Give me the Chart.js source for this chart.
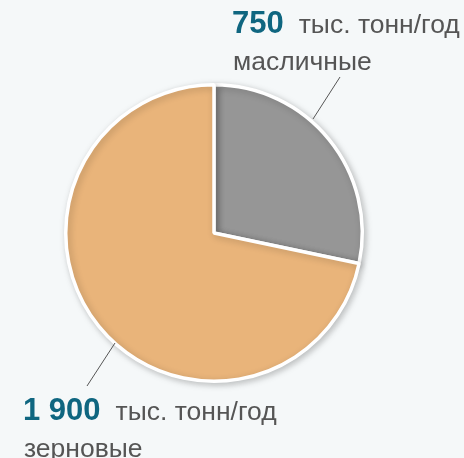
<!DOCTYPE html>
<html>
<head>
<meta charset="utf-8">
<script src="https://cdn.jsdelivr.net/npm/chart.js@4.4.1/dist/chart.umd.min.js"></script>
<style>
  html, body { margin: 0; padding: 0; background: #f5f8f9; }
  #wrap { width: 464px; height: 458px; }
</style>
</head>
<body>
<div id="wrap"><canvas id="pie" width="464" height="458"></canvas></div>
<script>
// data
const categories = ['масличные', 'зерновые'];
const values = [750, 1900];
const valueLabels = ['750', '1 900'];
const unitLabel = 'тыс. тонн/год';
const colors = ['#969696', '#e9b47a'];

// label blocks: where the text sits and where the leader line goes
const labelSpots = [
    { x: 232, y: 33, line: [340, 77, 313, 119] },
    { x: 23, y: 420, line: [115, 343, 87, 386] }
];

const shadowPlugin = {
    id: 'shadow',
    beforeDatasetsDraw(chart) {
        const c = chart.ctx;
        c.save();
        c.shadowColor = 'rgba(0, 0, 0, 0.22)';
        c.shadowBlur = 7;
        c.shadowOffsetX = 2;
        c.shadowOffsetY = 2;
    },
    afterDatasetsDraw(chart) {
        chart.ctx.restore();
    }
};

const labelPlugin = {
    id: 'labels',
    afterDraw(chart) {
        const c = chart.ctx;
        c.save();
        labelSpots.forEach((s, i) => {
            // leader line
            c.strokeStyle = '#555555';
            c.lineWidth = 1;
            c.beginPath();
            c.moveTo(s.line[0], s.line[1]);
            c.lineTo(s.line[2], s.line[3]);
            c.stroke();

            c.textBaseline = 'alphabetic';
            c.textAlign = 'left';
            c.font = 'bold 31px "Liberation Sans", Arial, sans-serif';
            c.fillStyle = '#0f6680';
            c.fillText(valueLabels[i], s.x, s.y);
            const w = c.measureText(valueLabels[i]).width;

            c.font = '26.5px "Liberation Sans", Arial, sans-serif';
            c.fillStyle = '#555555';
            c.fillText(unitLabel, s.x + w + 15, s.y);
            c.fillText(categories[i], s.x + 1, s.y + 37);
        });
        c.restore();
    }
};

new Chart(document.getElementById('pie'), {
    type: 'pie',
    data: {
        labels: categories,
        datasets: [{
            data: values,
            backgroundColor: colors,
            borderColor: '#ffffff',
            borderWidth: 3.5
        }]
    },
    options: {
        responsive: false,
        animation: false,
        layout: { padding: { left: 64, right: 100, top: 83, bottom: 75 } },
        plugins: {
            legend: { display: false },
            tooltip: { enabled: false }
        }
    },
    plugins: [shadowPlugin, labelPlugin]
});
</script>
</body>
</html>
